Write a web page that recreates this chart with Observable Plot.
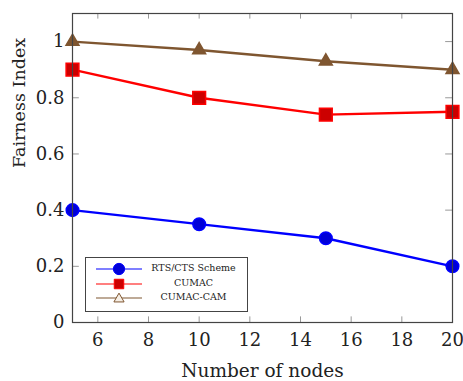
<!DOCTYPE html>
<html>
<head>
<meta charset="utf-8">
<script src="https://cdn.jsdelivr.net/npm/d3@7"></script>
<script src="https://cdn.jsdelivr.net/npm/@observablehq/plot@0.6"></script>
<style>
  html, body { margin: 0; padding: 0; background: #fff; }
  #chart { position: relative; width: 463px; height: 381px; }
  #legend {
    position: absolute; left: 85px; top: 257px; width: 163px; height: 55px;
    border: 1px solid #444; background: #fff; box-sizing: border-box;
    font-family: "DejaVu Serif", serif; font-size: 9.5px; color: #222;
  }
  .row { position: absolute; left: 0; width: 100%; height: 14px; }
  .row svg { position: absolute; left: 8px; top: 0; }
  .row span { position: absolute; left: 56px; right: 2px; text-align: center; top: 0px; white-space: nowrap; }
</style>
</head>
<body>
<div id="chart"></div>
<script>
// Fairness index against number of nodes, three schemes
const nodes = [5, 10, 15, 20];
const rtsCts = [0.40, 0.35, 0.30, 0.20];
const cumac = [0.90, 0.80, 0.74, 0.75];
const cumacCam = [1.00, 0.97, 0.93, 0.90];
const seriesNames = ["RTS/CTS Scheme", "CUMAC", "CUMAC-CAM"];
const xTicks = [6, 8, 10, 12, 14, 16, 18, 20];
const yTicks = [0, 0.2, 0.4, 0.6, 0.8, 1];

const styles = [
  {line: "#0000ff", fill: "#0000d8", stroke: "#0000ff", symbol: "circle", r: 6.3},
  {line: "#ff0000", fill: "#cc0000", stroke: "#ff0000", symbol: "square", r: 7.2},
  {line: "#7f5630", fill: "#7f5630", stroke: "#7f5630", symbol: "triangle", r: 4.8}
];
const values = [rtsCts, cumac, cumacCam];

const rows = [];
values.forEach((vals, s) => vals.forEach((v, i) => rows.push({series: seriesNames[s], s, x: nodes[i], y: v})));

const font = "DejaVu Serif, serif";
const tk = 0.02; // inward tick length in y units
const tkx = 0.27; // inward tick length in x units

const marks = [
  // inward tick marks on all four sides
  Plot.ruleX(xTicks, {x: d => d, y1: 0, y2: tk, stroke: "#999", strokeWidth: 1}),
  Plot.ruleX(xTicks, {x: d => d, y1: 1.1 - tk, y2: 1.1, stroke: "#999", strokeWidth: 1}),
  Plot.ruleY(yTicks, {y: d => d, x1: 5, x2: 5 + tkx, stroke: "#999", strokeWidth: 1}),
  Plot.ruleY(yTicks, {y: d => d, x1: 20 - tkx, x2: 20, stroke: "#999", strokeWidth: 1}),
  Plot.axisX(xTicks, {tickSize: 0, tickPadding: 11, fontSize: 18, fill: "#222", label: null}),
  Plot.axisY(yTicks, {tickSize: 0, tickPadding: 8, fontSize: 18, fill: "#222", label: null,
    tickFormat: d => d === 0 || d === 1 ? String(d) : d.toFixed(1)}),
  Plot.text(["Number of nodes"], {frameAnchor: "bottom", dy: 54, fontSize: 18.5, fill: "#222", lineAnchor: "bottom"}),
  Plot.text(["Fairness Index"], {frameAnchor: "left", dx: -53, rotate: -90, fontSize: 17.5, fill: "#222"}),
];
values.forEach((vals, s) => {
  const st = styles[s];
  const data = rows.filter(d => d.s === s);
  marks.push(Plot.line(data, {x: "x", y: "y", stroke: st.line, strokeWidth: 2.4}));
  marks.push(Plot.dot(data, {x: "x", y: "y", symbol: st.symbol, r: st.r, fill: st.fill, stroke: st.stroke, strokeWidth: 1.5}));
});
marks.push(Plot.frame({stroke: "#444", strokeWidth: 1.2}));

const chart = Plot.plot({
  width: 463,
  height: 381,
  marginLeft: 72,
  marginRight: 11,
  marginTop: 13,
  marginBottom: 59,
  style: {fontFamily: font, background: "#fff", overflow: "visible"},
  x: {domain: [5, 20]},
  y: {domain: [0, 1.1]},
  marks
});
const root = document.getElementById("chart");
root.appendChild(chart);

// legend inside the lower-left corner of the frame
const legend = document.createElement("div");
legend.id = "legend";
seriesNames.forEach((name, s) => {
  const st = styles[s];
  const row = document.createElement("div");
  row.className = "row";
  row.style.top = (4 + s * 14.5) + "px";
  const symbolPath = d3.symbol(st.symbol === "circle" ? d3.symbolCircle : st.symbol === "square" ? d3.symbolSquare : d3.symbolTriangle,
    st.symbol === "circle" ? 100 : st.symbol === "square" ? 90 : 45)();
  const hollow = s === 2;
  row.innerHTML = `<svg width="50" height="14"><line x1="2" x2="48" y1="7" y2="7" stroke="${st.line}" stroke-width="1.2"/>` +
    `<path d="${symbolPath}" transform="translate(25,${hollow ? 8 : 7})" fill="${hollow ? "#f6efe6" : st.fill}" stroke="${st.stroke}" stroke-width="1"/></svg>` +
    `<span>${name}</span>`;
  legend.appendChild(row);
});
root.appendChild(legend);
</script>
</body>
</html>
